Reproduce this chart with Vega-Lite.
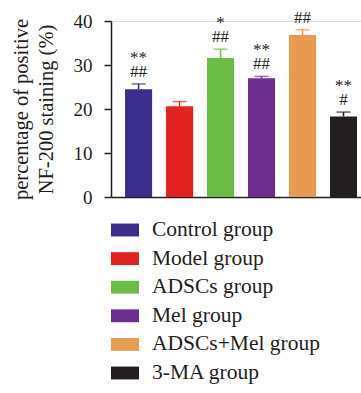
{
  "$schema": "https://vega.github.io/schema/vega-lite/v6.json",
  "width": 250,
  "height": 176,
  "autosize": {"type": "none"},
  "padding": {"left": 111, "top": 21, "right": 0, "bottom": 196},
  "background": "white",
  "data": {
    "values": [
      {"group": "Control group", "value": 24.5, "err": 25.7, "stars": "**", "hash": "##"},
      {"group": "Model group", "value": 20.6, "err": 21.7, "stars": "", "hash": ""},
      {"group": "ADSCs group", "value": 31.6, "err": 33.6, "stars": "*", "hash": "##"},
      {"group": "Mel group", "value": 27.0, "err": 27.4, "stars": "**", "hash": "##"},
      {"group": "ADSCs+Mel group", "value": 36.8, "err": 38.0, "stars": "", "hash": "##"},
      {"group": "3-MA group", "value": 18.3, "err": 19.3, "stars": "**", "hash": "#"}
    ]
  },
  "encoding": {
    "x": {
      "field": "group", "type": "nominal", "sort": null,
      "scale": {"paddingInner": 0.34, "paddingOuter": 0.22, "align": 0.78},
      "axis": {"title": null, "labels": false, "ticks": false, "domainColor": "#231f20", "domainWidth": 1.5}
    },
    "color": {
      "field": "group", "type": "nominal", "sort": null,
      "scale": {
        "domain": ["Control group", "Model group", "ADSCs group", "Mel group", "ADSCs+Mel group", "3-MA group"],
        "range": ["#3b2d8e", "#e32322", "#6bbd45", "#6c2e8e", "#e89b50", "#231f20"]
      },
      "legend": {
        "orient": "none", "legendX": 0, "legendY": 195,
        "title": null,
        "symbolType": "M-1,-0.46H1V0.46H-1Z",
        "symbolSize": 784,
        "symbolStrokeWidth": 0,
        "symbolOpacity": 1,
        "labelFont": "Liberation Serif",
        "labelFontSize": 21.5,
        "labelColor": "#231f20",
        "labelOffset": 13,
        "labelLimit": 300,
        "rowPadding": 3.6
      }
    }
  },
  "layer": [
    {
      "mark": {"type": "bar"},
      "encoding": {
        "y": {
          "field": "value", "type": "quantitative",
          "scale": {"domain": [0, 40], "nice": false},
          "axis": {
            "values": [0, 10, 20, 30, 40],
            "grid": false,
            "title": ["percentage of positive", "NF-200 staining (%)"],
            "titleFont": "Liberation Serif", "titleFontSize": 20.5, "titleFontWeight": "normal",
            "titleColor": "#231f20", "titleLineHeight": 25, "titlePadding": 17,
            "labelFont": "Liberation Serif", "labelFontSize": 19, "labelColor": "#231f20",
            "labelPadding": 12,
            "domainColor": "#231f20", "domainWidth": 1.5,
            "tickColor": "#231f20", "tickWidth": 1.5, "tickSize": 7
          }
        }
      }
    },
    {
      "mark": {"type": "rule", "strokeWidth": 1.5},
      "encoding": {"y": {"field": "value", "type": "quantitative"}, "y2": {"field": "err"}}
    },
    {
      "mark": {"type": "tick", "size": 14, "thickness": 1.5},
      "encoding": {"y": {"field": "err", "type": "quantitative"}}
    },
    {
      "mark": {"type": "text", "font": "Liberation Serif", "fontSize": 17, "baseline": "alphabetic", "dy": -7},
      "encoding": {"y": {"field": "err", "type": "quantitative"}, "text": {"field": "hash"}, "color": {"value": "#231f20"}}
    },
    {
      "mark": {"type": "text", "font": "Liberation Serif", "fontSize": 17, "baseline": "alphabetic", "dy": -21},
      "encoding": {"y": {"field": "err", "type": "quantitative"}, "text": {"field": "stars"}, "color": {"value": "#231f20"}}
    }
  ]
}
